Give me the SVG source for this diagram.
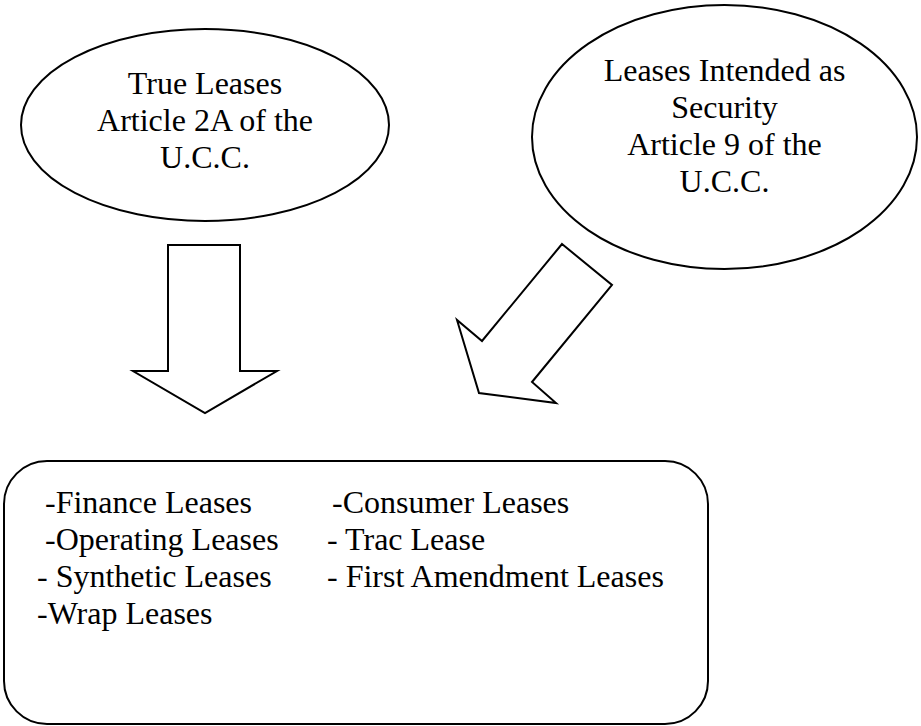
<svg xmlns="http://www.w3.org/2000/svg" width="921" height="726" viewBox="0 0 921 726">
<style>
.shape{fill:#fff;stroke:#000;stroke-width:2;stroke-linejoin:miter}
text{font-family:"Liberation Serif","Times New Roman",serif;font-size:32px;fill:#000}
.c{text-anchor:middle}
</style>
<rect width="921" height="726" fill="#fff"/>
<g id="true-leases">
<ellipse class="shape" cx="205" cy="125" rx="184" ry="96"/>
<text class="c" x="205" y="94">True Leases</text>
<text class="c" x="205" y="131">Article 2A of the</text>
<text class="c" x="205" y="168">U.C.C.</text>
</g>
<g id="security-leases">
<ellipse class="shape" cx="724.5" cy="137" rx="192.5" ry="132"/>
<text class="c" x="724.5" y="81">Leases Intended as</text>
<text class="c" x="724.5" y="118">Security</text>
<text class="c" x="724.5" y="155">Article 9 of the</text>
<text class="c" x="724.5" y="192">U.C.C.</text>
</g>
<g id="connectors">
<polygon class="shape" points="168,245 240,245 240,371 277,371 205,413 133,371 168,371"/>
<polygon class="shape" points="562,244 612,285 532,382 556,403 479,393 457,320 482,341"/>
</g>
<g id="lease-types">
<rect class="shape" x="4" y="461" width="704" height="263" rx="43" ry="43"/>
<text x="45" y="513">-Finance Leases</text>
<text x="45" y="550">-Operating Leases</text>
<text x="37" y="587">- Synthetic Leases</text>
<text x="37" y="624">-Wrap Leases</text>
<text x="332" y="513">-Consumer Leases</text>
<text x="327" y="550">- Trac Lease</text>
<text x="327" y="587">- First Amendment Leases</text>
</g>
</svg>
